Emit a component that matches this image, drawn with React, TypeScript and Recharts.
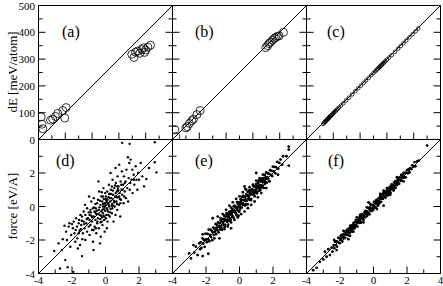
import { ScatterChart, Scatter, XAxis, YAxis, ReferenceLine } from "recharts"

// energies [meV/atom]: x = reference, y = fit
const energyA: [number, number][] = [
  [10, 84], [13, 57], [16, 40], [45, 72], [53, 76], [63, 86], [72, 97], [91, 108], [103, 119], [98, 80],
  [348, 318], [356, 306], [362, 326], [370, 330], [378, 322], [385, 336], [392, 342], [400, 334], [408, 345], [418, 352], [396, 325],
]
const energyB: [number, number][] = [
  [9, 36], [13, 11], [50, 43], [55, 48], [63, 60], [72, 70], [78, 76], [91, 93], [103, 108],
  [348, 343], [355, 350], [360, 358], [366, 363], [373, 371], [380, 377], [385, 381], [392, 385], [398, 387], [414, 400],
]
const energyC: [number, number][] = [
  [62, 58], [66, 62], [69, 66], [71, 67], [73, 70], [75, 72], [77, 74], [79, 76], [81, 78], [83, 80],
  [85, 83], [87, 85], [89, 87], [92, 89], [95, 92], [98, 96], [101, 99], [104, 102], [108, 106], [112, 110],
  [116, 114], [121, 119], [128, 126], [137, 135], [148, 146], [158, 156], [170, 168], [182, 180], [193, 191], [203, 201],
  [213, 211], [222, 220], [232, 230], [242, 240], [250, 248], [257, 255], [262, 260], [266, 264], [270, 268], [273, 271],
  [276, 274], [279, 277], [282, 280], [285, 283], [289, 287], [294, 292], [300, 298], [308, 306], [318, 315], [330, 327],
  [342, 339], [352, 349], [362, 359], [372, 369], [384, 381], [396, 393], [407, 404], [417, 414],
]

// forces [eV/A]
const forceD: [number, number][] = [
  [-3.06, -2.66], [-2.72, -3.7], [-2.8, -2.2], [-2.6, -2.6], [-2.55, -1.95],
  [-2.4, -3.2], [-2.26, -3.62], [-2.35, -1.5], [-2.2, -1.2], [-2.1, -2.4], [-2.3, -2.0], [-2.05, -1.7], [-2.45, -1.15], [-2.15, -1.0],
  [-1.92, -3.9], [-1.95, -1.3], [-1.9, -0.9], [-1.85, -1.6], [-1.8, -2.1], [-1.75, -0.7], [-1.7, -1.2], [-1.65, -2.5], [-1.6, -1.0],
  [-1.55, -1.45], [-1.5, -0.5], [-1.52, -2.3], [-1.58, -0.8], [-1.68, -1.9], [-1.78, -1.4],
  [-1.4, -2.96], [-1.45, -1.1], [-1.4, -0.6], [-1.35, -1.6], [-1.3, -0.3], [-1.3, -0.9], [-1.25, -1.3], [-1.2, -2.0], [-1.2, -0.5],
  [-1.15, -1.0], [-1.1, -0.1], [-1.1, -1.5], [-1.05, -0.7], [-1.0, -1.2], [-1.0, -0.35], [-1.38, -1.95], [-1.22, 0.1], [-1.48, -1.35],
  [-0.95, -0.8], [-0.95, -1.7], [-0.9, -0.2], [-0.9, -1.1], [-0.85, 0.3], [-0.85, -0.55], [-0.8, -1.4], [-0.8, -0.9], [-0.75, -0.1],
  [-0.75, -2.1], [-0.7, -0.6], [-0.7, 0.5], [-0.65, -1.2], [-0.65, -0.3], [-0.6, -0.8], [-0.6, 0.15], [-0.55, -1.6], [-0.55, -0.45],
  [-0.5, -1.0], [-0.5, 0.2], [-0.98, 0.6], [-0.72, -2.6],
  [-0.45, -0.7], [-0.45, 0.4], [-0.4, -0.2], [-0.4, -1.3], [-0.38, 0.9], [-0.35, -0.5], [-0.3, 0.1], [-0.3, -0.95], [-0.28, -1.8],
  [-0.25, -0.3], [-0.25, 0.6], [-0.2, -0.65], [-0.2, 0.3], [-0.18, -1.1], [-0.15, 0.0], [-0.15, -0.4], [-0.12, 1.1], [-0.1, -0.15],
  [-0.1, 0.45], [-0.08, -0.8], [-0.05, 0.2], [-0.05, -1.5], [-0.02, -0.25], [-0.42, 1.5], [-0.33, -2.2], [-0.22, 0.85],
  [0.0, 0.1], [0.02, 0.6], [0.05, -0.5], [0.05, 0.35], [0.08, -0.1], [0.1, 0.9], [0.12, -0.9], [0.15, 0.2], [0.15, -0.3], [0.18, 0.55],
  [0.2, 1.3], [0.22, 0.0], [0.25, -0.6], [0.25, 0.75], [0.28, 0.3], [0.3, -0.15], [0.32, 1.0], [0.35, 0.5], [0.38, -0.4], [0.4, 0.15],
  [0.42, 1.6], [0.45, 0.7], [0.48, -0.9], [0.5, 0.35], [0.08, -1.3], [0.3, 2.0],
  [0.52, 1.1], [0.55, 0.0], [0.58, 0.6], [0.6, -0.5], [0.62, 1.4], [0.65, 0.3], [0.68, 0.9], [0.7, -0.2], [0.72, 1.8], [0.75, 0.55],
  [0.78, 1.2], [0.8, 0.1], [0.82, 2.5], [0.85, 0.8], [0.88, -0.6], [0.9, 1.5], [0.92, 0.4], [0.95, 1.0], [0.98, 2.1], [1.0, 0.7],
  [1.0, 3.8], [0.6, 2.3],
  [1.05, 1.3], [1.08, 0.2], [1.1, 1.8], [1.15, 0.9], [1.2, 1.5], [1.22, 0.5], [1.25, 2.2], [1.3, 1.1], [1.34, 2.94], [1.35, 0.3],
  [1.38, 1.7], [1.42, 2.6], [1.44, 3.74], [1.45, 1.0], [1.48, 1.4],
  [1.5, 2.8], [1.55, 1.6], [1.6, 2.2], [1.62, 0.8], [1.68, 1.9], [1.72, 1.3], [1.8, 2.4], [1.85, 1.6], [1.9, 1.0], [1.95, 2.0],
  [2.0, 1.6], [2.1, 2.6], [2.2, 1.8], [2.3, 1.2], [2.44, 1.64], [2.94, 2.64], [3.04, 2.04], [2.94, 3.84], [2.6, 2.3],
  [-0.62, -0.35], [-0.48, -0.9], [-0.36, -0.05], [-0.27, -0.55], [-0.14, 0.15], [-0.07, -0.6], [0.03, 0.45], [0.11, -0.2],
  [0.19, 0.1], [0.27, 0.5], [0.36, 0.05], [0.44, 0.95], [0.53, 0.25], [0.61, 0.8], [0.69, 0.15], [0.77, 0.95], [0.86, 0.45],
  [0.94, 1.3], [-0.88, -0.35], [-0.79, -0.65], [-0.71, -1.4], [-0.58, -0.1], [-0.43, -0.45], [-0.31, -0.75], [-0.19, -0.2],
  [-0.04, 0.0], [0.07, 0.25], [0.17, -0.5], [0.33, 0.75], [0.41, -0.1], [0.57, 1.25], [0.66, 0.55], [0.74, 1.05], [0.89, 0.2],
  [1.02, 1.0], [1.12, 0.6], [-1.12, -0.75], [-1.28, -1.05], [-1.42, -0.85], [-0.52, -0.25], [-0.16, 0.6], [0.22, 0.75],
  [0.12, 0.4], [-0.33, 0.35], [-0.12, -0.55], [0.46, 0.05], [0.03, -0.7], [-0.68, -0.05], [-0.95, -0.5], [0.7, 1.2],
  [0.82, 0.6], [1.15, 1.4], [-0.22, -0.9], [-0.02, 0.8], [0.28, -0.35], [0.38, 1.2], [-0.58, -1.3], [-1.6, -1.6], [-2.0, -1.05], [1.7, 1.6],
]
const forceE: [number, number][] = [
  [-3.0, -2.8], [-2.9, -3.1], [-2.7, -2.75], [-2.5, -2.9], [-2.2, -2.96], [-1.86, -2.82], [-2.2, -1.66], [-2.6, -2.4],
  [-2.4, -2.2], [-2.35, -2.55], [-2.75, -2.3], [2.94, 2.44], [2.94, 3.4], [2.94, 3.58], [2.8, 3.0], [2.6, 3.0], [2.45, 2.8],
  [2.55, 2.5], [2.3, 1.9], [-1.2, -1.9], [-0.5, -1.3], [0.3, 1.2], [1.0, 2.0], [-1.6, -0.7],
  [-2.32, -2.14], [-2.27, -2.47], [-2.21, -1.9], [-2.16, -2.21], [-2.12, -2.0], [-2.08, -2.41], [-2.03, -1.62], [-1.99, -1.97],
  [-1.95, -2.13], [-1.91, -1.64], [-1.87, -1.96], [-1.84, -1.38], [-1.8, -2.07], [-1.77, -1.69], [-1.73, -1.38], [-1.7, -1.82],
  [-1.66, -1.45], [-1.63, -2.01], [-1.59, -1.54], [-1.56, -1.26], [-1.53, -1.69], [-1.49, -1.35], [-1.46, -1.5], [-1.43, -1.04],
  [-1.4, -1.65], [-1.37, -1.27], [-1.34, -1.1], [-1.31, -1.42], [-1.28, -0.95], [-1.25, -1.55], [-1.22, -1.19], [-1.19, -1.0],
  [-1.16, -1.37], [-1.13, -0.69], [-1.1, -1.17], [-1.07, -0.92], [-1.04, -1.39], [-1.01, -0.75], [-0.98, -0.97], [-0.95, -1.09],
  [-0.92, -0.55], [-0.89, -0.8], [-0.86, -1.1], [-0.83, -0.61], [-0.8, -0.83], [-0.77, -0.46], [-0.74, -0.91], [-0.71, -0.59],
  [-0.68, -1.08], [-0.65, -0.59], [-0.62, -0.34], [-0.59, -0.69], [-0.56, -0.39], [-0.53, -0.79], [-0.5, -0.07], [-0.47, -0.47],
  [-0.44, -0.63], [-0.41, -0.16], [-0.38, -0.27], [-0.35, -0.67], [-0.32, -0.25], [-0.29, 0.05], [-0.26, -0.34], [-0.23, -0.03],
  [-0.2, -0.43], [-0.17, -0.04], [-0.14, 0.26], [-0.11, -0.24], [-0.08, -0.04], [-0.05, 0.24], [-0.02, -0.31], [0.01, 0.17],
  [0.04, -0.02], [0.07, 0.43], [0.1, 0.19], [0.13, -0.07], [0.16, 0.39], [0.19, 0.17], [0.22, 0.64], [0.25, 0.1],
  [0.28, 0.39], [0.31, 0.58], [0.34, 0.06], [0.37, 0.42], [0.4, 0.72], [0.43, 0.34], [0.46, 0.64], [0.49, 0.13],
  [0.52, 0.66], [0.55, 0.56], [0.58, 0.96], [0.61, 0.44], [0.64, 0.88], [0.67, 0.75], [0.7, 0.45], [0.73, 1.03],
  [0.76, 0.71], [0.79, 0.98], [0.82, 1.27], [0.85, 0.73], [0.88, 0.98], [0.91, 0.6], [0.94, 1.2], [0.97, 1.0],
  [1.0, 1.35], [1.03, 0.85], [1.06, 1.21], [1.09, 1.08], [1.12, 1.4], [1.15, 0.93], [1.18, 1.58], [1.21, 1.28],
  [1.24, 0.97], [1.27, 1.48], [1.3, 1.24], [1.33, 1.66], [1.36, 1.48], [1.39, 1.24], [1.42, 1.67], [1.45, 1.11],
  [1.48, 1.52], [1.51, 1.88], [1.54, 1.44], [1.57, 1.74], [1.6, 2.03], [1.63, 1.43], [1.66, 1.75], [1.69, 1.98],
  [1.72, 1.64], [1.75, 1.95], [1.79, 1.5], [1.83, 2.17], [1.87, 1.89], [1.91, 2.14], [1.95, 1.82], [1.99, 2.38],
  [2.04, 2.1], [2.09, 2.36], [2.14, 1.98], [2.19, 2.34], [2.25, 2.66], [2.31, 2.26], [2.38, 2.6],
  [-1.185, -1.21], [-1.125, -0.83], [-1.065, -1.31], [-1.005, -0.92], [-0.945, -0.74], [-0.885, -1.22], [-0.825, -0.79],
  [-0.765, -0.39], [-0.705, -0.82], [-0.645, -0.47], [-0.585, -0.87], [-0.525, -0.28], [-0.465, -0.37], [-0.405, -0.57],
  [-0.345, 0.01], [-0.285, -0.33], [-0.225, -0.09], [-0.165, -0.54], [-0.105, 0.17], [-0.045, 0.02], [0.015, -0.18],
  [0.075, 0.3], [0.135, 0.58], [0.195, 0.1], [0.255, 0.57], [0.315, 0.34], [0.375, 0.14], [0.435, 0.63], [0.495, 0.87],
  [0.555, 0.42], [0.615, 0.74], [0.675, 0.38], [0.735, 1.0], [0.795, 0.85], [0.855, 1.19], [0.915, 0.85], [0.975, 1.16],
  [1.035, 0.78], [1.095, 1.51], [1.155, 1.24], [1.215, 1.1], [1.275, 1.58], [1.335, 1.13], [1.395, 1.53], [1.455, 1.7],
  [1.515, 1.35], [1.575, 1.63],
  [-1.0, -0.45], [-0.9, -1.35], [-0.8, -0.2], [-0.7, -1.2], [-0.6, 0.05], [-0.5, -0.95], [-0.4, 0.25], [-0.3, -0.8],
  [-0.2, 0.45], [-0.1, -0.65], [0.0, 0.6], [0.1, -0.45], [0.2, 0.85], [0.3, -0.3], [0.4, 1.0], [0.5, -0.1], [0.6, 1.15],
  [0.7, 0.1], [0.8, 1.3], [0.9, 0.3], [1.0, 1.55], [1.1, 0.55], [1.2, 1.7], [1.3, 0.8], [1.4, 1.9], [-1.3, -0.6],
  [-1.5, -1.9], [1.6, 1.1], [-0.05, -0.55], [0.35, 1.05],
]
const forceF: [number, number][] = [
  [-3.4, -3.66], [-3.0, -3.16], [-3.2, -3.3], [-2.9, -2.7], [-2.8, -3.0], [-2.7, -2.55], [-2.6, -2.9], [-2.5, -2.46],
  [-2.45, -2.7], [-3.6, -3.8], [-2.2, -2.6], [3.2, 3.64], [2.7, 2.74], [2.6, 2.7], [2.5, 2.4], [2.45, 2.65], [-2.35, -2.0],
  [-1.5, -1.95], [0.6, 0.05], [-0.3, 0.25],
  [-2.38, -2.3], [-2.34, -2.49], [-2.3, -2.1], [-2.26, -2.3], [-2.22, -2.09], [-2.18, -2.39], [-2.14, -2.11], [-2.1, -1.86],
  [-2.07, -2.17], [-2.04, -1.89], [-2.01, -2.19], [-1.98, -1.92], [-1.95, -1.73], [-1.92, -2.0], [-1.89, -1.78], [-1.86, -2.09],
  [-1.83, -1.66], [-1.8, -1.8], [-1.77, -1.91], [-1.74, -1.49], [-1.71, -1.67], [-1.68, -1.87], [-1.65, -1.53], [-1.62, -1.68],
  [-1.59, -1.39], [-1.56, -1.68], [-1.53, -1.44], [-1.5, -1.72], [-1.47, -1.31], [-1.44, -1.42], [-1.41, -1.57], [-1.38, -1.15],
  [-1.35, -1.38], [-1.32, -1.22], [-1.29, -1.49], [-1.26, -1.12], [-1.23, -1.32], [-1.2, -0.99], [-1.17, -1.12], [-1.14, -1.31],
  [-1.11, -0.93], [-1.08, -1.1], [-1.05, -0.81], [-1.02, -1.15], [-0.99, -0.92], [-0.96, -1.2], [-0.93, -0.8], [-0.9, -0.89],
  [-0.87, -0.98], [-0.84, -0.65], [-0.81, -0.86], [-0.78, -0.63], [-0.75, -0.94], [-0.72, -0.64], [-0.69, -0.46], [-0.66, -0.74],
  [-0.63, -0.52], [-0.6, -0.81], [-0.57, -0.53], [-0.54, -0.37], [-0.51, -0.65], [-0.48, -0.26], [-0.45, -0.46], [-0.42, -0.3],
  [-0.39, -0.57], [-0.36, -0.3], [-0.33, -0.08], [-0.3, -0.37], [-0.27, -0.13], [-0.24, -0.47], [-0.21, -0.12], [-0.18, -0.16],
  [-0.15, -0.27], [-0.12, 0.08], [-0.09, -0.13], [-0.06, 0.1], [-0.03, -0.23], [0.0, 0.07], [0.03, 0.27], [0.06, -0.03],
  [0.09, 0.22], [0.12, -0.04], [0.15, 0.18], [0.18, 0.39], [0.21, 0.15], [0.24, 0.34], [0.27, 0.05], [0.3, 0.48],
  [0.33, 0.33], [0.36, 0.23], [0.39, 0.62], [0.42, 0.47], [0.45, 0.27], [0.48, 0.62], [0.51, 0.48], [0.54, 0.74],
  [0.57, 0.46], [0.6, 0.68], [0.63, 0.88], [0.66, 0.59], [0.69, 0.81], [0.72, 0.53], [0.75, 0.79], [0.78, 0.95],
  [0.81, 0.67], [0.84, 1.06], [0.87, 0.88], [0.9, 0.8], [0.93, 1.08], [0.96, 0.91], [0.99, 1.18], [1.02, 0.81],
  [1.05, 1.14], [1.08, 1.32], [1.11, 1.03], [1.14, 1.27], [1.17, 1.01], [1.2, 1.26], [1.23, 1.44], [1.26, 1.24],
  [1.29, 1.4], [1.32, 1.12], [1.35, 1.51], [1.38, 1.41], [1.41, 1.29], [1.44, 1.66], [1.47, 1.41], [1.5, 1.6],
  [1.53, 1.36], [1.56, 1.74], [1.59, 1.61], [1.62, 1.53], [1.65, 1.89], [1.68, 1.54], [1.71, 1.78], [1.74, 1.89],
  [1.77, 1.72], [1.8, 2.0], [1.84, 1.73], [1.88, 2.0], [1.92, 1.74], [1.96, 2.01], [2.0, 2.17], [2.05, 1.98],
  [2.1, 2.23], [2.15, 2.03], [2.2, 2.29], [2.26, 2.23], [2.32, 2.46], [2.38, 2.38],
  [-1.485, -1.54], [-1.395, -1.26], [-1.305, -1.47], [-1.215, -1.17], [-1.125, -1.24], [-1.035, -0.85], [-0.945, -0.98],
  [-0.855, -0.76], [-0.765, -0.97], [-0.675, -0.53], [-0.585, -0.65], [-0.495, -0.29], [-0.405, -0.41], [-0.315, -0.47],
  [-0.225, -0.06], [-0.135, -0.23], [-0.045, 0.07], [0.045, -0.09], [0.135, 0.33], [0.225, 0.25], [0.315, 0.15],
  [0.405, 0.54], [0.495, 0.46], [0.585, 0.79], [0.675, 0.58], [0.765, 0.83], [0.855, 0.67], [0.945, 1.11], [1.035, 1.03],
  [1.125, 1.25], [1.215, 1.08], [1.305, 1.52], [1.395, 1.33], [1.485, 1.57],
  [-1.8, -1.45], [-1.4, -1.75], [-1.0, -0.65], [-0.6, -0.95], [-0.2, 0.15], [0.2, -0.15], [0.6, 0.95], [1.0, 0.7],
  [1.4, 1.75], [1.8, 1.5], [-1.2, -1.5], [-0.4, -0.05], [0.4, 0.75], [1.2, 0.95], [-0.8, -0.5], [0.8, 1.1],
]

const energyTicks = [0, 50, 100, 150, 200, 250, 300, 350, 400, 450, 500]
const energyMajor = [0, 100, 200, 300, 400, 500]
const forceTicks = [-4, -3, -2, -1, 0, 1, 2, 3, 4]
const forceMajor = [-4, -2, 0, 2, 4]

const FONT = "'Liberation Serif', 'Times New Roman', serif"
const PLOT = 134
const COLS = [38.5, 172.5, 306.5]
const ROWS = [5.5, 139.5]
const ML = 38.5
const MT = 5.5
const MR = 3
const MB = 12.5

type Side = "bottom" | "top" | "left" | "right"

function tickMark(side: Side, major: number[], labels: number[]) {
  return (props: any) => {
    const { x, y, payload } = props
    const v = payload.value
    const len = major.includes(v) ? 7 : 4
    const dx = side === "left" ? len : side === "right" ? -len : 0
    const dy = side === "bottom" ? -len : side === "top" ? len : 0
    const show = labels.includes(v)
    return (
      <g>
        <line x1={x} y1={y} x2={x + dx} y2={y + dy} stroke="#000" strokeWidth={1} />
        {show && side === "bottom" && (
          <text x={x} y={y + 10} textAnchor="middle" fontFamily={FONT} fontSize={11} fill="#000">
            {v}
          </text>
        )}
        {show && side === "left" && (
          <text x={x - 3.5} y={y + 4} textAnchor="end" fontFamily={FONT} fontSize={11} fill="#000">
            {v}
          </text>
        )}
      </g>
    )
  }
}

interface PanelProps {
  col: number
  row: number
  data: [number, number][]
  domain: [number, number]
  ticks: number[]
  major: number[]
  xLabels: number[]
  yLabels: number[]
  r: number
  open: boolean
}

function Panel({ col, row, data, domain, ticks, major, xLabels, yLabels, r, open }: PanelProps) {
  const points = data.map(([x, y]) => ({ x, y }))
  const common = { type: "number" as const, domain, ticks, interval: 0 as const, allowDataOverflow: true, tickSize: 0, tickMargin: 0, tickLine: false, axisLine: { stroke: "#000" } }
  return (
    <div style={{ position: "absolute", left: COLS[col] - ML, top: ROWS[row] - MT }}>
      <ScatterChart width={ML + PLOT + MR} height={MT + PLOT + MB} margin={{ top: 0, right: 0, bottom: 0, left: 0 }}>
        <XAxis dataKey="x" {...common} height={MB} tick={tickMark("bottom", major, xLabels)} />
        <XAxis xAxisId="top" orientation="top" {...common} height={MT} tick={tickMark("top", major, [])} />
        <YAxis dataKey="y" {...common} width={ML} tick={tickMark("left", major, yLabels)} />
        <YAxis yAxisId="right" orientation="right" {...common} width={MR} tick={tickMark("right", major, [])} />
        <ReferenceLine segment={[{ x: domain[0], y: domain[0] }, { x: domain[1], y: domain[1] }]} stroke="#000" strokeWidth={1} />
        <Scatter
          data={points}
          isAnimationActive={false}
          shape={(p: any) => (
            <circle cx={p.cx} cy={p.cy} r={r} fill={open ? "none" : "#000"} stroke={open ? "#000" : "none"} strokeWidth={0.8} />
          )}
        />
      </ScatterChart>
    </div>
  )
}

const panelTitles = [
  { t: "(a)", x: 62, y: 37 },
  { t: "(b)", x: 195, y: 37 },
  { t: "(c)", x: 327, y: 37 },
  { t: "(d)", x: 56, y: 166 },
  { t: "(e)", x: 195, y: 166 },
  { t: "(f)", x: 328, y: 166 },
]

export default function App() {
  const none: number[] = []
  return (
    <div style={{ position: "absolute", left: 0, top: 0, width: 443, height: 286, background: "#fff", overflow: "hidden" }}>
      <Panel col={0} row={0} data={energyA} domain={[0, 500]} ticks={energyTicks} major={energyMajor} xLabels={none} yLabels={energyMajor} r={4} open />
      <Panel col={1} row={0} data={energyB} domain={[0, 500]} ticks={energyTicks} major={energyMajor} xLabels={none} yLabels={none} r={4} open />
      <Panel col={2} row={0} data={energyC} domain={[0, 500]} ticks={energyTicks} major={energyMajor} xLabels={none} yLabels={none} r={1.8} open />
      <Panel col={0} row={1} data={forceD} domain={[-4, 4]} ticks={forceTicks} major={forceMajor} xLabels={[-4, -2, 0, 2]} yLabels={[-4, -2, 0, 2]} r={1.2} open={false} />
      <Panel col={1} row={1} data={forceE} domain={[-4, 4]} ticks={forceTicks} major={forceMajor} xLabels={[-4, -2, 0, 2]} yLabels={none} r={1.4} open={false} />
      <Panel col={2} row={1} data={forceF} domain={[-4, 4]} ticks={forceTicks} major={forceMajor} xLabels={[-4, -2, 0, 2, 4]} yLabels={none} r={1.4} open={false} />
      <svg width={443} height={286} style={{ position: "absolute", left: 0, top: 0, pointerEvents: "none" }}>
        {panelTitles.map((p) => (
          <text key={p.t} x={p.x} y={p.y} fontFamily={FONT} fontSize={16} fill="#000">
            {p.t}
          </text>
        ))}
        <text transform="translate(17,72) rotate(-90)" textAnchor="middle" fontFamily={FONT} fontSize={13} fill="#000">
          dE [meV/atom]
        </text>
        <text transform="translate(17,206) rotate(-90)" textAnchor="middle" fontFamily={FONT} fontSize={13} fill="#000">
          force [eV/A]
        </text>
      </svg>
    </div>
  )
}
